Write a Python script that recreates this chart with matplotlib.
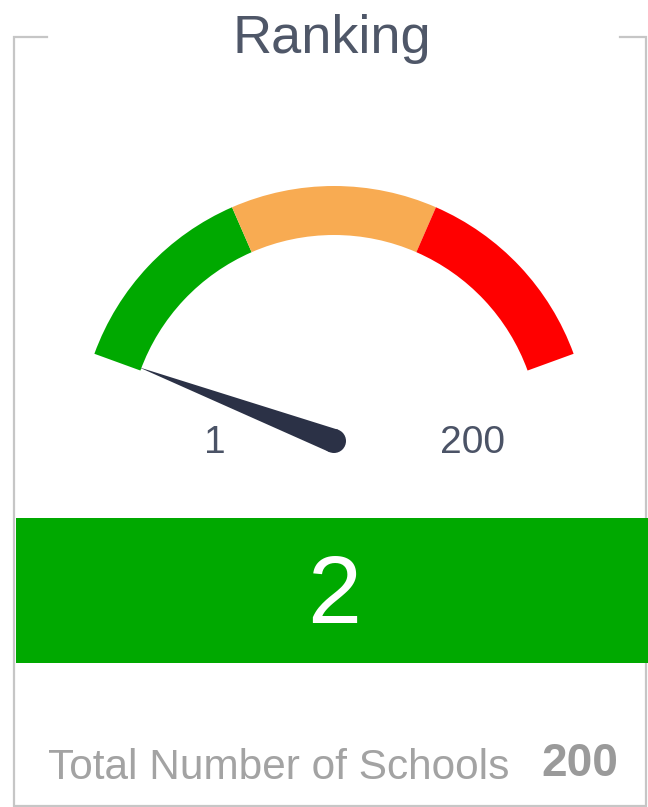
import matplotlib.pyplot as plt
from matplotlib.patches import Wedge, Polygon, Circle, Rectangle
import numpy as np

# gauge data
title = "Ranking"
rank_value = 2
scale_min = 1
scale_max = 200
band_edges = [1, 67, 134, 200]
band_colors = ['#00a900', '#f8ab52', '#ff0000']
total_label = "Total Number of Schools"
total_schools = 200

# gauge geometry (pixels, y up)
W, H = 648, 807
cx, cy = 334, H - 441
r_out, r_in = 255, 206
a_start, a_end = 160, 20


def to_angle(v):
    return a_start - (v - scale_min) / (scale_max - scale_min) * (a_start - a_end)


def main():
    fig = plt.figure(figsize=(W / 100, H / 100), dpi=100, facecolor='white')
    ax = fig.add_axes([0, 0, 1, 1])
    ax.set_xlim(0, W)
    ax.set_ylim(0, H)
    ax.axis('off')

    font = 'Liberation Sans'
    border = '#c6c6c6'

    # fieldset style frame with a gap for the title
    ax.plot([47, 14, 14, 646, 646, 620], [H - 37, H - 37, H - 806, H - 806, H - 37, H - 37],
            color=border, lw=1.6, solid_joinstyle='miter', zorder=1)
    ax.text(331.5, H - 53, title, ha='center', va='baseline', fontsize=39,
            color='#4f5768', family=font)

    # colour bands
    for lo, hi, c in zip(band_edges[:-1], band_edges[1:], band_colors):
        ax.add_patch(Wedge((cx, cy), r_out, to_angle(hi), to_angle(lo),
                           width=r_out - r_in, facecolor=c, edgecolor='none'))

    # needle
    ang = np.radians(to_angle(rank_value))
    tip_r = 209
    base_w = 12
    ux, uy = np.cos(ang), np.sin(ang)
    px, py = -uy, ux
    needle = Polygon([(cx + px * base_w, cy + py * base_w),
                      (cx + ux * tip_r, cy + uy * tip_r),
                      (cx - px * base_w, cy - py * base_w)],
                     closed=True, facecolor='#2b3146', edgecolor='none')
    ax.add_patch(needle)
    ax.add_patch(Circle((cx, cy), base_w, facecolor='#2b3146', edgecolor='none'))

    # scale labels
    ax.text(215, H - 453, str(scale_min), ha='center', va='baseline', fontsize=28,
            color='#4b5366', family=font)
    ax.text(473, H - 453, str(scale_max), ha='center', va='baseline', fontsize=28,
            color='#4b5366', family=font)

    # value bar
    ax.add_patch(Rectangle((16, H - 663), W - 16, 145, facecolor='#00a900',
                           edgecolor='none', zorder=3))
    ax.text(334, H - 623, str(rank_value), ha='center', va='baseline', fontsize=70,
            color='white', family=font, zorder=4)

    # footer
    ax.text(48, H - 779, total_label, ha='left', va='baseline', fontsize=30.5,
            color='#a3a3a3', family=font)
    ax.text(618, H - 776, str(total_schools), ha='right', va='baseline', fontsize=33,
            color='#9a9a9a', family=font, fontweight='bold')

    fig.savefig('out.png', dpi=100, facecolor='white')


if __name__ == "__main__":
    main()
